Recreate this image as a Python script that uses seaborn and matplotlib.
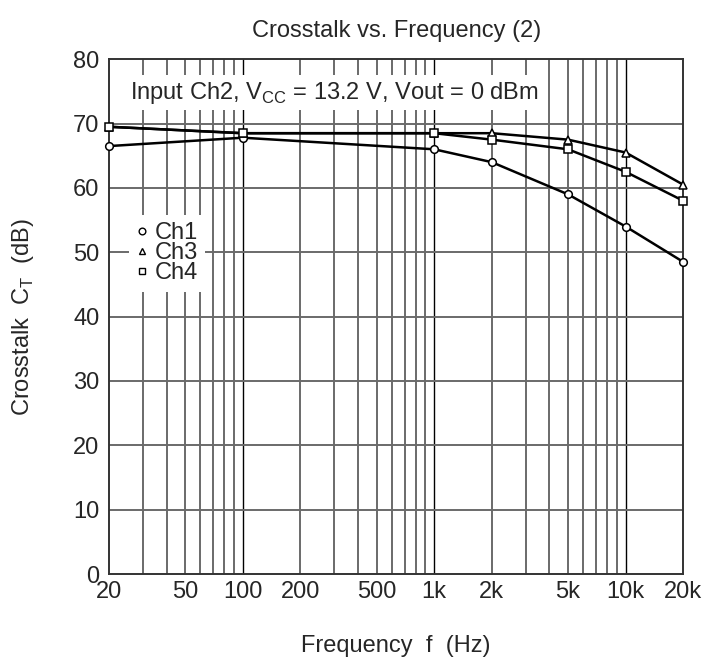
import matplotlib
matplotlib.use("Agg")
import matplotlib.pyplot as plt
from matplotlib.lines import Line2D
from matplotlib.ticker import FixedLocator, NullLocator
import pandas as pd
import seaborn as sns

# Dados
frequencias = [20, 100, 1000, 2000, 5000, 10000, 20000]
ch1 = [66.5, 67.8, 66.0, 64.0, 59.0, 54.0, 48.5]
ch3 = [69.5, 68.5, 68.5, 68.5, 67.5, 65.5, 60.5]
ch4 = [69.5, 68.5, 68.5, 67.5, 66.0, 62.5, 58.0]
canais = ["Ch1", "Ch3", "Ch4"]
marcadores = {"Ch1": "o", "Ch3": "^", "Ch4": "s"}
xticks = [20, 50, 100, 200, 500, 1000, 2000, 5000, 10000, 20000]
xticklabels = ["20", "50", "100", "200", "500", "1k", "2k", "5k", "10k", "20k"]

df = pd.DataFrame({
    "freq": frequencias * 3,
    "ct": ch1 + ch3 + ch4,
    "canal": sum([[c] * len(frequencias) for c in canais], []),
})

sns.set_style("white")
plt.rcParams["font.family"] = ["Liberation Sans", "DejaVu Sans"]
FS = 17

fig = plt.figure(figsize=(7.08, 6.6), dpi=100)
ax = fig.add_axes([0.154, 0.1303, 0.811, 0.780])

# grade logarítmica
linhas_v = []
for dec in [10, 100, 1000, 10000]:
    for k in range(1, 10):
        v = k * dec
        if 20 < v < 20000:
            linhas_v.append(v)
for v in linhas_v:
    major = v in (100, 1000, 10000)
    ax.axvline(v, color="black" if major else "#6a6a6a",
               lw=1.0 if major else 1.4, zorder=0)
for y in range(10, 80, 10):
    ax.axhline(y, color="#6a6a6a", lw=1.4, zorder=0)

sns.lineplot(
    data=df, x="freq", y="ct", style="canal", markers=marcadores,
    dashes=False, color="black", lw=1.8, markersize=5.5,
    markerfacecolor="white", markeredgecolor="black", markeredgewidth=1.1,
    legend=False, ax=ax, zorder=3, clip_on=False,
)

ax.set_xscale("log")
ax.set_xlim(20, 20000)
ax.set_ylim(0, 80)
ax.xaxis.set_major_locator(FixedLocator(xticks))
ax.xaxis.set_minor_locator(NullLocator())
ax.set_xticklabels(xticklabels)
ax.set_yticks(range(0, 81, 10))
ax.tick_params(axis="x", labelsize=FS, length=0, pad=5)
ax.tick_params(axis="y", labelsize=FS, length=0, pad=7)
for s in ax.spines.values():
    s.set_color("#333333")
    s.set_linewidth(1.4)

ax.set_xlabel("Frequency  f  (Hz)", fontsize=FS, va="center")
ax.xaxis.set_label_coords(0.5, -0.139)
ax.set_ylabel("Crosstalk  C$_\\mathregular{T}$  (dB)", fontsize=FS)
ax.yaxis.set_label_coords(-0.128, 0.5)
ax.set_title("Crosstalk vs. Frequency (2)", fontsize=FS, pad=16)

ax.text(25.8, 74.8, "Input Ch2, V$_\\mathregular{CC}$ = 13.2 V, Vout = 0 dBm",
        fontsize=FS, va="center", ha="left", zorder=4,
        bbox=dict(facecolor="white", edgecolor="none", pad=3))

handles = [Line2D([], [], ls="none", marker=marcadores[c], color="black",
                  markerfacecolor="white", markersize=4.8, markeredgewidth=1.0)
           for c in canais]
leg = ax.legend(handles, canais, loc="upper left", bbox_to_anchor=(0.014, 0.72),
                frameon=True, fontsize=FS, handlelength=0.5, handletextpad=0.3,
                labelspacing=-0.08, borderpad=0.3, fancybox=False)
leg.get_frame().set_edgecolor("none")
leg.get_frame().set_facecolor("white")
leg.get_frame().set_alpha(1)
leg.set_zorder(5)

fig.savefig("out.png", dpi=100)
